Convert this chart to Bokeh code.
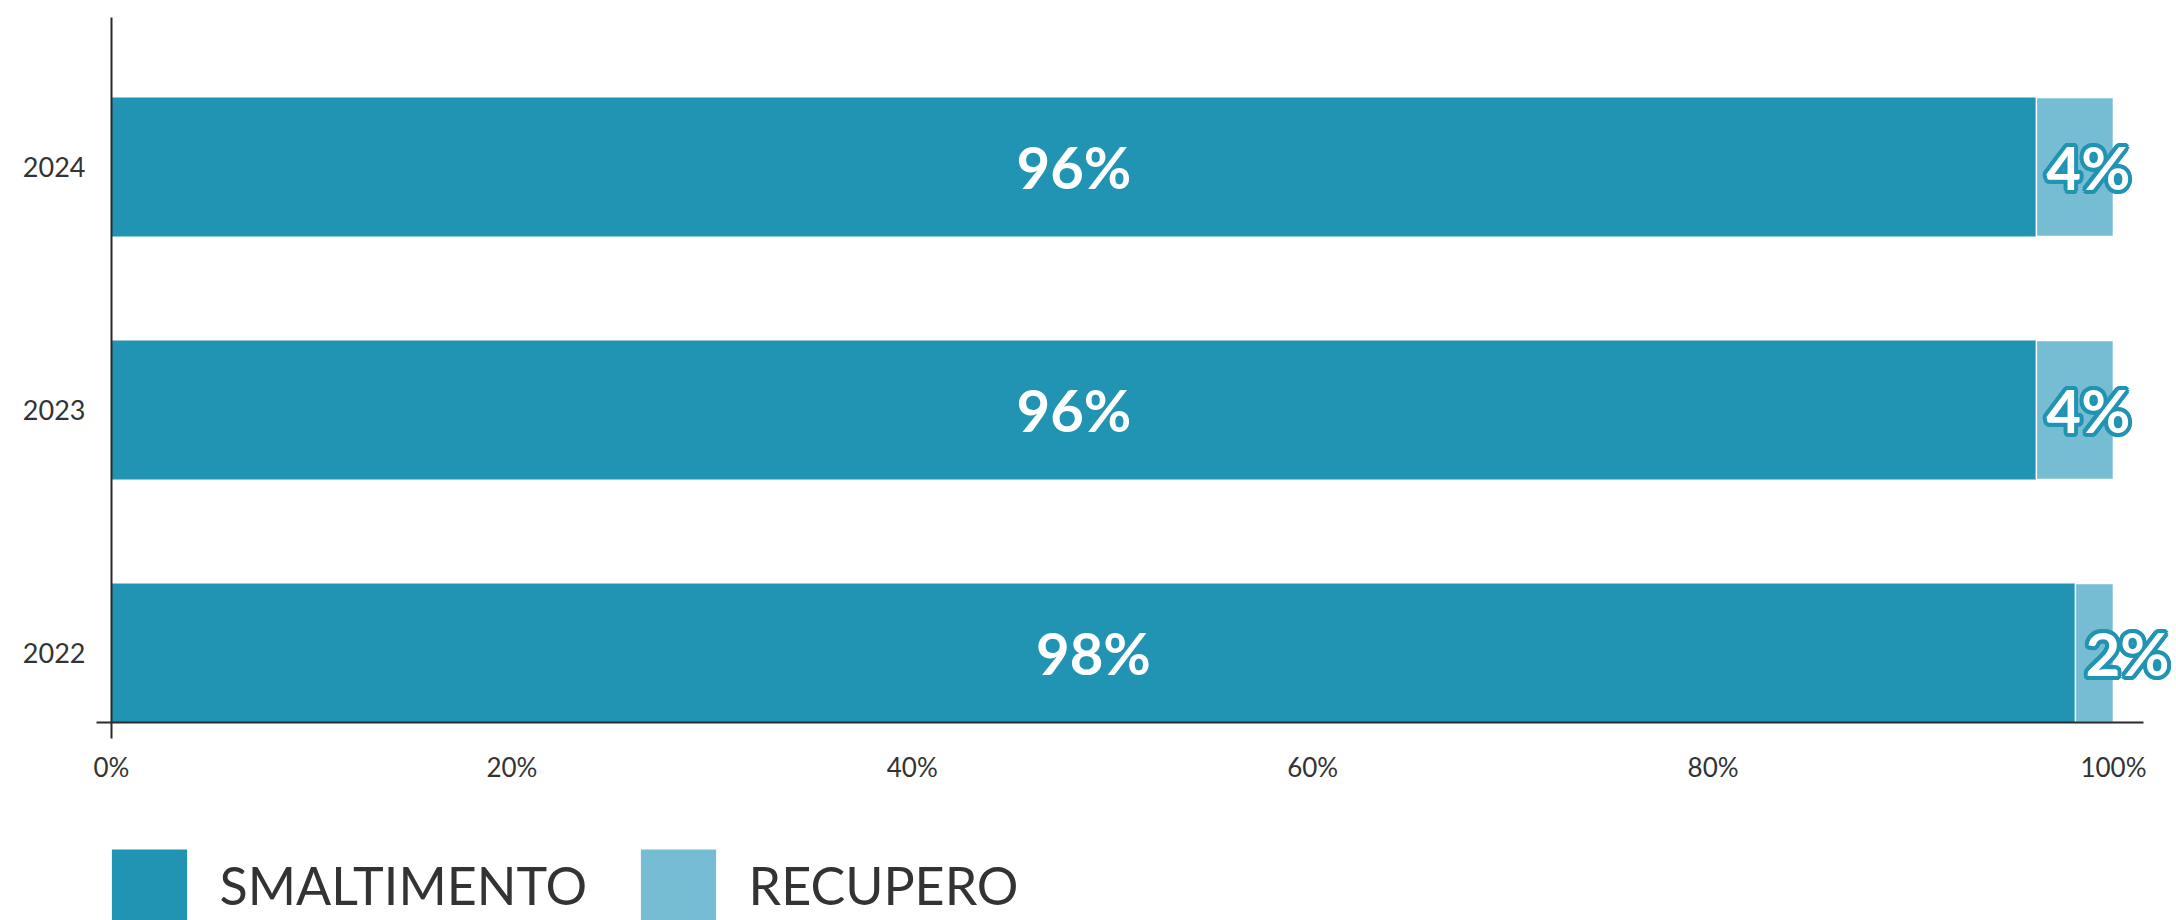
from bokeh.plotting import figure
from bokeh.layouts import column
from bokeh.models import (ColumnDataSource, FixedTicker, LabelSet, Legend, LegendItem, Range1d)
from bokeh.core.properties import value
from bokeh.embed import file_html
from bokeh.resources import INLINE
import math

# ---- data ----
years = ["2022", "2023", "2024"]
smaltimento = [98.1, 96.15, 96.15]
recupero = [1.9, 3.85, 3.85]
smalt_labels = ["98%", "96%", "96%"]
recup_labels = ["2%", "4%", "4%"]
x_ticks = [0, 20, 40, 60, 80, 100]
x_tick_labels = ["0%", "20%", "40%", "60%", "80%", "100%"]
series_names = ["SMALTIMENTO", "RECUPERO"]

DARK = "#2194b3"
LIGHT = "#76bcd2"
TXT = "#333333"
AXIS = "#2a2a2e"
BOLD_FONT = "Lato"

ypos = list(range(len(years)))
src = ColumnDataSource(dict(
    y=ypos,
    s=smaltimento,
    s_mid=[v / 2 for v in smaltimento],
    r_right=[a + b for a, b in zip(smaltimento, recupero)],
    s_lab=smalt_labels,
    r_lab=recup_labels,
))

y_start, y_end = -0.286, 2.615
p = figure(width=2176, height=800, output_backend="svg", toolbar_location=None,
           x_range=Range1d(0, 103.15), y_range=Range1d(y_start, y_end),
           min_border_left=111, min_border_right=0, min_border_top=17,
           min_border_bottom=78)
p.outline_line_color = None
p.xgrid.visible = False
p.ygrid.visible = False

r1 = p.hbar(y="y", left=0, right="s", height=0.572, source=src,
            fill_color=DARK, line_color=None)
r2 = p.hbar(y="y", left="s", right="r_right", height=0.572, source=src,
            fill_color=LIGHT, line_color="white", line_width=1.5)

# axes
xa = p.xaxis[0]
xa.bounds = (0, 101.5)
xa.ticker = FixedTicker(ticks=x_ticks, minor_ticks=[0])
xa.major_label_overrides = {t: l for t, l in zip(x_ticks, x_tick_labels)}
xa.major_tick_line_color = None
xa.major_tick_out = 0
xa.major_tick_in = 0
xa.minor_tick_out = 16
xa.minor_tick_in = 0
xa.minor_tick_line_color = AXIS
xa.minor_tick_line_width = 2
xa.axis_line_color = AXIS
xa.axis_line_width = 2
xa.major_label_text_font = "Lato"
xa.major_label_text_font_size = "26px"
xa.major_label_text_color = TXT
xa.major_label_standoff = 12

ya = p.yaxis[0]
ya.ticker = FixedTicker(ticks=ypos, minor_ticks=[y_start])
ya.major_label_overrides = {i: y for i, y in zip(ypos, years)}
ya.major_tick_line_color = None
ya.major_tick_out = 0
ya.major_tick_in = 0
ya.minor_tick_out = 15
ya.minor_tick_in = 0
ya.minor_tick_line_color = AXIS
ya.minor_tick_line_width = 2
ya.axis_line_color = AXIS
ya.axis_line_width = 2
ya.major_label_text_font = "Lato"
ya.major_label_text_font_size = "27px"
ya.major_label_text_color = TXT
ya.major_label_standoff = 11

# main labels
p.add_layout(LabelSet(x="s_mid", y="y", text="s_lab", source=src,
                      text_align="center", text_baseline="middle",
                      text_color="white", text_font=value(BOLD_FONT),
                      text_font_style="bold", text_font_size="58px"))

# outlined small labels
rad = 4
for k in range(16):
    a = 2 * math.pi * k / 16
    p.add_layout(LabelSet(x="s", y="y", text="r_lab", source=src,
                          x_offset=10 + rad * math.cos(a), y_offset=rad * math.sin(a),
                          text_align="left", text_baseline="middle",
                          text_color=DARK, text_font=value(BOLD_FONT),
                          text_font_style="bold", text_font_size="60px"))
p.add_layout(LabelSet(x="s", y="y", text="r_lab", source=src,
                      x_offset=10, y_offset=0,
                      text_align="left", text_baseline="middle",
                      text_color="white", text_font=value(BOLD_FONT),
                      text_font_style="bold", text_font_size="60px"))

# legend panel (dummy bars lie outside the visible range; only the legend shows)
lsrc = ColumnDataSource(dict(y=[-5.0], l=[0.0], r=[0.0]))
q = figure(width=2176, height=120, output_backend="svg", toolbar_location=None,
           x_range=Range1d(0, 1), y_range=Range1d(0, 1),
           x_axis_type=None, y_axis_type=None, min_border=0)
q.outline_line_color = None
q.xgrid.visible = False
q.ygrid.visible = False
q1 = q.hbar(y="y", left="l", right="r", height=1, source=lsrc, fill_color=DARK, line_color=None)
q2 = q.hbar(y="y", left="l", right="r", height=1, source=lsrc, fill_color=LIGHT, line_color=None)
legend = Legend(items=[LegendItem(label=series_names[0], renderers=[q1]),
                       LegendItem(label=series_names[1], renderers=[q2])],
                orientation="horizontal", location=(-9.4, -9),
                glyph_width=94, glyph_height=89, label_standoff=24,
                spacing=40, label_width=371, padding=0, margin=0,
                border_line_color=None, background_fill_alpha=0,
                label_text_font="Lato", label_text_font_size="52px",
                label_text_color=TXT, label_text_baseline="middle")
q.add_layout(legend)

layout = column(p, q, spacing=0)
open("out.html", "w").write(file_html(layout, INLINE))
